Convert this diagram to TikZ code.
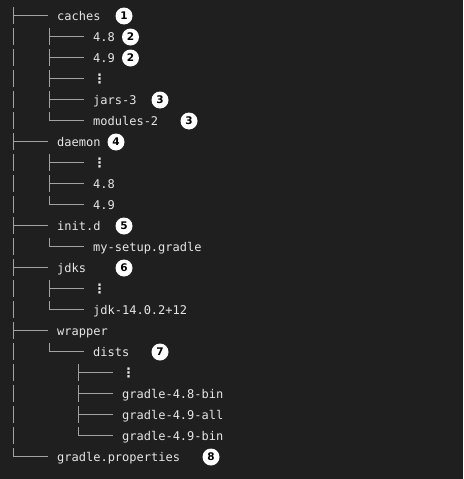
\documentclass[tikz,border=0pt]{standalone}
\usepackage{fontspec}
\setmonofont{DejaVu Sans Mono}
\newfontfamily\badgefont{DejaVu Sans}
\newfontfamily\dotsfont{DejaVu Sans}
\definecolor{bg}{HTML}{1F1F1F}
\definecolor{fg}{HTML}{E6E6E6}
\definecolor{guide}{HTML}{A2A2A2}
\tikzset{
	entry/.style={anchor=west, inner sep=0pt, text height=12pt, text depth=1.6pt, text=fg,
		font=\ttfamily\fontsize{12}{12}\selectfont},
	badge/.style={circle, fill=white, text=black, inner sep=0pt, minimum size=17pt,
		font=\badgefont\bfseries\fontsize{10.5}{10.5}\selectfont},
	branch/.style={draw=guide, line width=0.9pt, shorten >=9pt},
	spine/.style={draw=guide, line width=0.9pt, dash pattern=on 16.5pt off 4.5pt, shorten <=12.75pt},
}
\newcommand{\vd}{{\dotsfont\bfseries\fontsize{13}{13}\selectfont ⋮}}
\begin{document}
\begin{tikzpicture}[x=1pt,y=-1pt]
		\fill[bg] (0,0) rectangle (463,479);
		\useasboundingbox (0,0) rectangle (463,479);

		\coordinate (rail0) at (13,-5.5);
		\coordinate (rail1) at (49,0);
		\coordinate (rail2) at (78,0);

		\begin{scope}[every node/.style=entry]
			\node (caches) at (57,15.5) {caches};
			\node (c48) at (93,36.5) {4.8};
			\node (c49) at (93,57.5) {4.9};
			\node (cdots) at (93,78.5) {\vd};
			\node (jars) at (93,99.5) {jars-3};
			\node (modules) at (93,120.5) {modules-2};
			\node (daemon) at (57,141.5) {daemon};
			\node (ddots) at (93,162.5) {\vd};
			\node (d48) at (93,183.5) {4.8};
			\node (d49) at (93,204.5) {4.9};
			\node (initd) at (57,225.5) {init.d};
			\node (setup) at (93,246.5) {my-setup.gradle};
			\node (jdks) at (57,267.5) {jdks};
			\node (jdots) at (93,288.5) {\vd};
			\node (jdk) at (93,309.5) {jdk-14.0.2+12};
			\node (wrapper) at (57,330.5) {wrapper};
			\node (dists) at (93,351.5) {dists};
			\node (wdots) at (122,372.5) {\vd};
			\node (g48bin) at (122,393.5) {gradle-4.8-bin};
			\node (g49all) at (122,414.5) {gradle-4.9-all};
			\node (g49bin) at (122,435.5) {gradle-4.9-bin};
			\node (props) at (57,456.5) {gradle.properties};
		\end{scope}

		\begin{scope}[every node/.style=badge]
			\node (n1) at (124,16) {1};
			\node (n2a) at (130.5,37) {2};
			\node (n2b) at (130.5,58) {2};
			\node (n3a) at (160,100) {3};
			\node (n3b) at (189,121) {3};
			\node (n4) at (116,142) {4};
			\node (n5) at (124,226) {5};
			\node (n6) at (124,268) {6};
			\node (n7) at (160,352) {7};
			\node (n8) at (211,457) {8};
		\end{scope}

		% vertical guides
		\path[spine] (rail0) -- (rail0 |- props.west);
		\path[spine] (rail1 |- caches.west) -- (rail1 |- modules.west);
		\path[spine] (rail1 |- daemon.west) -- (rail1 |- d49.west);
		\path[spine] (rail1 |- initd.west) -- (rail1 |- setup.west);
		\path[spine] (rail1 |- jdks.west) -- (rail1 |- jdk.west);
		\path[spine] (rail1 |- wrapper.west) -- (rail1 |- dists.west);
		\path[spine] (rail2 |- dists.west) -- (rail2 |- g49bin.west);

		% branches
		\path[branch] (rail0 |- caches.west) -- (caches.west);
		\path[branch] (rail0 |- daemon.west) -- (daemon.west);
		\path[branch] (rail0 |- initd.west) -- (initd.west);
		\path[branch] (rail0 |- jdks.west) -- (jdks.west);
		\path[branch] (rail0 |- wrapper.west) -- (wrapper.west);
		\path[branch] (rail0 |- props.west) -- (props.west);
		\path[branch] (rail1 |- c48.west) -- (c48.west);
		\path[branch] (rail1 |- c49.west) -- (c49.west);
		\path[branch] (rail1 |- cdots.west) -- (cdots.west);
		\path[branch] (rail1 |- jars.west) -- (jars.west);
		\path[branch] (rail1 |- modules.west) -- (modules.west);
		\path[branch] (rail1 |- ddots.west) -- (ddots.west);
		\path[branch] (rail1 |- d48.west) -- (d48.west);
		\path[branch] (rail1 |- d49.west) -- (d49.west);
		\path[branch] (rail1 |- setup.west) -- (setup.west);
		\path[branch] (rail1 |- jdots.west) -- (jdots.west);
		\path[branch] (rail1 |- jdk.west) -- (jdk.west);
		\path[branch] (rail1 |- dists.west) -- (dists.west);
		\path[branch] (rail2 |- wdots.west) -- (wdots.west);
		\path[branch] (rail2 |- g48bin.west) -- (g48bin.west);
		\path[branch] (rail2 |- g49all.west) -- (g49all.west);
		\path[branch] (rail2 |- g49bin.west) -- (g49bin.west);
	\end{tikzpicture}
\end{document}
